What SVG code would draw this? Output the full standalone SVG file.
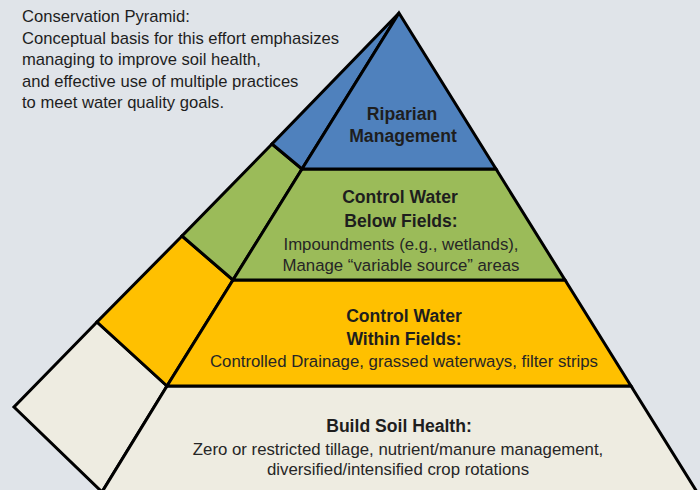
<svg xmlns="http://www.w3.org/2000/svg" width="700" height="490" viewBox="0 0 700 490">
  <style>
    .face { stroke: #000; stroke-width: 3; stroke-linejoin: miter; }
    .blue { fill: #4f81bd; }
    .green { fill: #9bbb59; }
    .yellow { fill: #ffc000; }
    .cream { fill: #eeece1; }
    text { font-family: "Liberation Sans", Arial, sans-serif; fill: #1e1e1e; }
    .intro { font-size: 16.6px; fill: #2a2a2a; }
    .title { font-size: 17.6px; font-weight: bold; text-anchor: middle; }
    .desc { font-size: 16.8px; text-anchor: middle; fill: #262626; }
  </style>

  <rect width="700" height="490" fill="#e0e4e9"/>

  <!-- explanatory note -->
  <g id="intro" class="intro">
    <text x="22" y="22">Conservation Pyramid:</text>
    <text x="22" y="43.5">Conceptual basis for this effort emphasizes</text>
    <text x="22" y="65">managing to improve soil health,</text>
    <text x="22" y="86.5">and effective use of multiple practices</text>
    <text x="22" y="108">to meet water quality goals.</text>
  </g>

  <!-- base tier -->
  <g id="soil-health">
    <polygon class="face cream" points="97,322 14,407 102,492 167,386"/>
    <polygon class="face cream" points="167,386 631,386 697,492 102,492"/>
    <text class="title" x="399" y="432">Build Soil Health:</text>
    <text class="desc" x="398" y="455">Zero or restricted tillage, nutrient/manure management,</text>
    <text class="desc" x="398" y="475">diversified/intensified crop rotations</text>
  </g>

  <!-- third tier -->
  <g id="within-fields">
    <polygon class="face yellow" points="182,236 97,322 167,386 233,280"/>
    <polygon class="face yellow" points="233,280 565,280 631,386 167,386"/>
    <text class="title" x="404" y="322">Control Water</text>
    <text class="title" x="404" y="345">Within Fields:</text>
    <text class="desc" x="404" y="367">Controlled Drainage, grassed waterways, filter strips</text>
  </g>

  <!-- second tier -->
  <g id="below-fields">
    <polygon class="face green" points="272,144 182,236 233,280 302,169"/>
    <polygon class="face green" points="302,169 496,169 565,280 233,280"/>
    <text class="title" x="400" y="203">Control Water</text>
    <text class="title" x="401" y="227">Below Fields:</text>
    <text class="desc" x="401" y="250">Impoundments (e.g., wetlands),</text>
    <text class="desc" x="401" y="271">Manage “variable source” areas</text>
  </g>

  <!-- top tier -->
  <g id="riparian">
    <polygon class="face blue" points="399,13 272,144 302,169"/>
    <polygon class="face blue" points="399,13 302,169 496,169"/>
    <text class="title" x="402" y="120">Riparian</text>
    <text class="title" x="403" y="142">Management</text>
  </g>
</svg>
